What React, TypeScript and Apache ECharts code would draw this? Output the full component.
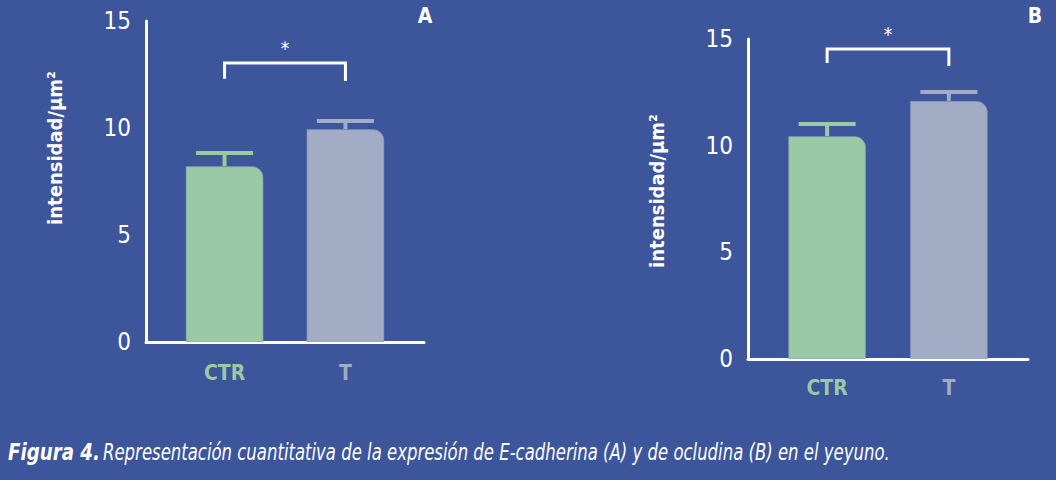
import React, { useEffect, useRef } from "react";
import * as echarts from "echarts";

const categories = ["CTR", "T"];
const catKeys = ["g", "s"];
const barColors = ["#99CAA5", "#A2ACC5"];

// Panel A: E-cadherina
const meansA = [8.22, 9.95];
const upperA = [8.83, 10.33];
const bracketA = [13.04, 12.3, 12.2]; // bar level, left leg end, right leg end
const starA = 13.75;

// Panel B: ocludina
const meansB = [10.45, 12.1];
const upperB = [11.02, 12.52];
const bracketB = [14.53, 13.88, 13.74];
const starB = 15.25;

const yTicks = { min: 0, max: 15, interval: 5 };
const yTitle = "intensidad/µm²";
const captionBold = "Figura 4.";
const caption = "Representación cuantitativa de la expresión de E-cadherina (A) y de ocludina (B) en el yeyuno.";

const BG = "#3C559B";
const NARROW = "'DejaVu Sans Condensed', 'DejaVu Sans', sans-serif";

function App() {
  const ref = useRef<HTMLDivElement>(null);
  useEffect(() => {
    if (!ref.current) return;
    const chart = echarts.init(ref.current, null, { renderer: "svg" });

    const rich: any = {};
    catKeys.forEach((k, i) => {
      rich[k] = { color: barColors[i], fontWeight: "bold", fontSize: 21, fontFamily: NARROW };
    });

    const mkX = (gridIndex: number, margin: number) => ({
      type: "value",
      gridIndex,
      min: -0.65,
      max: 1.65,
      splitLine: { show: false },
      axisTick: { show: false },
      axisLine: { show: true, onZero: false, lineStyle: { color: "#fff", width: 3 } },
      axisLabel: {
        customValues: [0, 1],
        margin,
        formatter: (v: number) => {
          const i = Math.round(v);
          return `{${catKeys[i]}|${categories[i]}}`;
        },
        rich,
      },
    });
    const mkY = (gridIndex: number) => ({
      type: "value",
      gridIndex,
      min: yTicks.min,
      max: yTicks.max,
      interval: yTicks.interval,
      splitLine: { show: false },
      axisTick: { show: false },
      axisLine: { show: true, onZero: false, lineStyle: { color: "#fff", width: 3 } },
      axisLabel: { color: "#fff", fontSize: 24, fontFamily: NARROW, margin: 15 },
    });

    const barSeries = (idx: number, means: number[]) => ({
      type: "bar",
      xAxisIndex: idx,
      yAxisIndex: idx,
      barWidth: 78,
      data: means.map((m, i) => ({
        value: [i, m],
        itemStyle: {
          color: barColors[i],
          borderRadius: [0, 11, 0, 0],
          borderColor: "rgba(120,140,190,0.6)",
          borderWidth: 1,
        },
      })),
    });

    const errSeries = (idx: number, means: number[], upper: number[]) => ({
      type: "custom",
      xAxisIndex: idx,
      yAxisIndex: idx,
      clip: false,
      z: 3,
      data: means.map((m, i) => [i, m, upper[i]]),
      renderItem: (params: any, api: any) => {
        const i = api.value(0);
        const p0 = api.coord([i, api.value(1)]);
        const p1 = api.coord([i, api.value(2)]);
        const color = barColors[params.dataIndex];
        return {
          type: "group",
          children: [
            { type: "line", shape: { x1: p0[0], y1: p0[1], x2: p1[0], y2: p1[1] }, style: { stroke: color, lineWidth: 4 } },
            { type: "line", shape: { x1: p1[0] - 28.5, y1: p1[1], x2: p1[0] + 28.5, y2: p1[1] }, style: { stroke: color, lineWidth: 4 } },
          ],
        };
      },
    });

    const bracketSeries = (idx: number, br: number[], star: number) => ({
      type: "custom",
      xAxisIndex: idx,
      yAxisIndex: idx,
      clip: false,
      z: 3,
      data: [[0, 1, br[0], br[1], br[2], star]],
      renderItem: (params: any, api: any) => {
        const a = api.coord([api.value(0), api.value(2)]);
        const b = api.coord([api.value(1), api.value(2)]);
        const la = api.coord([api.value(0), api.value(3)]);
        const lb = api.coord([api.value(1), api.value(4)]);
        const s = api.coord([(api.value(0) + api.value(1)) / 2, api.value(5)]);
        return {
          type: "group",
          children: [
            {
              type: "polyline",
              shape: { points: [[la[0], la[1]], [a[0], a[1]], [b[0], b[1]], [lb[0], lb[1]]] },
              style: { stroke: "#fff", lineWidth: 3, fill: "none", lineJoin: "miter" },
            },
            {
              type: "text",
              x: s[0],
              y: s[1],
              style: { text: "*", fill: "#fff", fontSize: 19, fontFamily: NARROW, align: "center", verticalAlign: "middle" },
            },
          ],
        };
      },
    });

    const yTitleText = (x: number, y: number) => ({
      type: "text",
      x,
      y,
      rotation: Math.PI / 2,
      style: {
        text: yTitle,
        fill: "#fff",
        fontSize: 20,
        fontWeight: "bold",
        fontFamily: NARROW,
        align: "center",
        verticalAlign: "middle",
      },
    });

    chart.setOption({
      animation: false,
      backgroundColor: BG,
      grid: [
        { left: 146, top: 21, width: 278, height: 321 },
        { left: 748, top: 39, width: 280, height: 320 },
      ],
      xAxis: [mkX(0, 20), mkX(1, 18)],
      yAxis: [mkY(0), mkY(1)],
      series: [
        barSeries(0, meansA),
        errSeries(0, meansA, upperA),
        bracketSeries(0, bracketA, starA),
        barSeries(1, meansB),
        errSeries(1, meansB, upperB),
        bracketSeries(1, bracketB, starB),
      ],
      graphic: [
        yTitleText(55, 148),
        yTitleText(657, 191),
        {
          type: "text",
          x: 425,
          y: 16,
          style: { text: "A", fill: "#fff", fontSize: 21, fontWeight: "bold", fontFamily: NARROW, align: "center", verticalAlign: "middle" },
        },
        {
          type: "text",
          x: 1035,
          y: 16,
          style: { text: "B", fill: "#fff", fontSize: 21, fontWeight: "bold", fontFamily: NARROW, align: "center", verticalAlign: "middle" },
        },
        {
          type: "text",
          x: 8,
          y: 452,
          scaleX: 0.88,
          style: {
            text: captionBold,
            fill: "#fff",
            fontSize: 23,
            fontWeight: "bold",
            fontStyle: "italic",
            fontFamily: NARROW,
            verticalAlign: "middle",
          },
        },
        {
          type: "text",
          x: 103,
          y: 452,
          scaleX: 0.798,
          style: {
            text: caption,
            fill: "#fff",
            fontSize: 23,
            fontStyle: "italic",
            fontFamily: NARROW,
            verticalAlign: "middle",
          },
        },
      ],
    });
    return () => chart.dispose();
  }, []);
  return (
    <div
      ref={ref}
      style={{ position: "fixed", left: 0, top: 0, width: 1056, height: 480 }}
    />
  );
}

export default App;
